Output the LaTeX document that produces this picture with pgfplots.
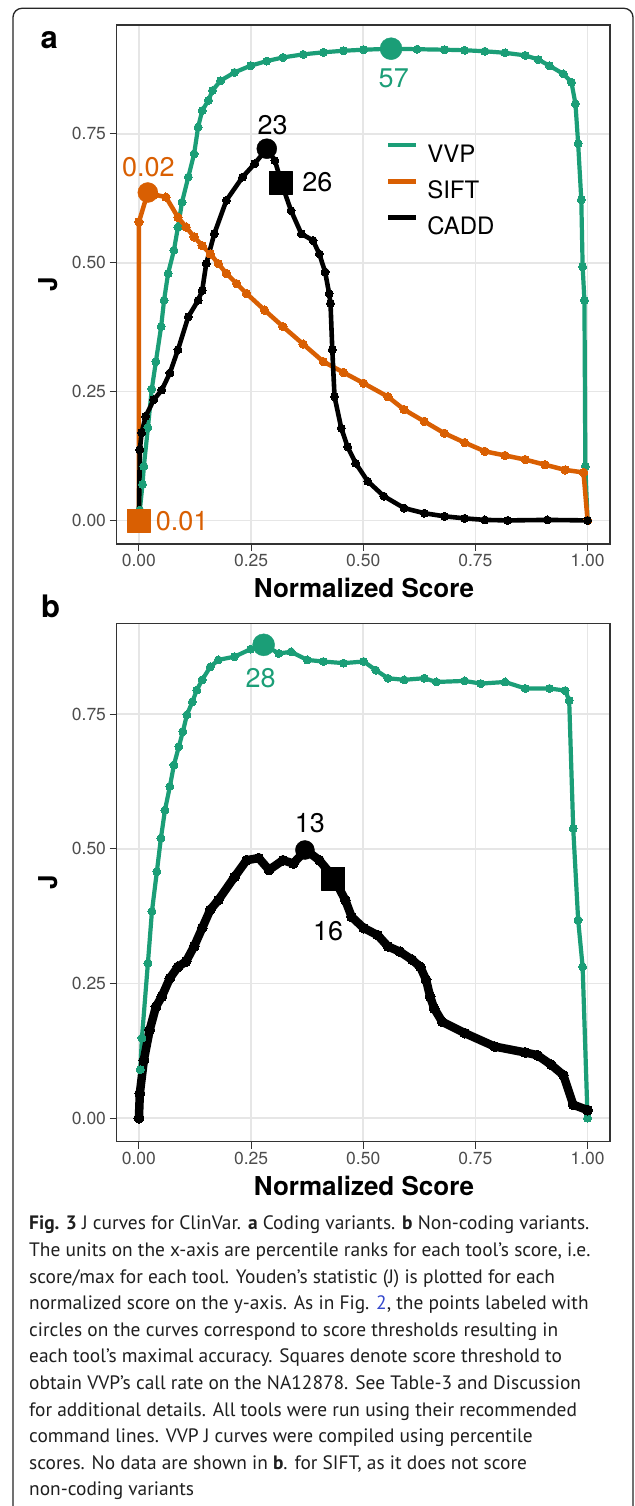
\documentclass[border=0pt]{standalone}
\usepackage{fontspec}
\setmainfont{TeX Gyre Heros}
\newfontfamily\capfont{PT Sans}
\usepackage{pgfplots}
\pgfplotsset{compat=1.18}

\definecolor{vvp}{HTML}{1B9E77}
\definecolor{sift}{HTML}{D95F02}
\definecolor{tickc}{HTML}{4D4D4D}
\definecolor{boxc}{HTML}{333333}
\definecolor{gridc}{HTML}{E6E6E6}
\definecolor{linkc}{HTML}{3347CC}

\pgfplotsset{
  jpanel/.style={
    scale only axis, width=493.5pt,
    xmin=-0.05, xmax=1.05, clip=false,
    xtick={0,0.25,0.5,0.75,1}, xticklabels={0.00,0.25,0.50,0.75,1.00},
    ytick={0,0.25,0.5,0.75}, yticklabels={0.00,0.25,0.50,0.75},
    tick pos=left, tick align=outside, major tick length=7pt,
    tick style={boxc, line width=1.1pt},
    axis line style={boxc, line width=1.2pt},
    grid=major, grid style={gridc, line width=1.8pt},
    ticklabel style={font=\fontsize{17.5}{17.5}\selectfont, text=tickc},
    /pgf/number format/assume math mode=true,
    xlabel={\bfseries Normalized Score},
    xlabel style={font=\fontsize{26}{26}\selectfont, at={(axis description cs:0.5015,0)}, anchor=base, yshift=-54pt},
    ylabel={\bfseries J},
    ylabel style={font=\fontsize{26}{26}\selectfont, at={(axis description cs:-0.138,0.5)}, anchor=center},
    every axis plot/.append style={line join=round},
  },
  dots/.style={mark=*, mark size=#1, mark options={solid, line width=0pt}},
}

\begin{document}
\begin{tikzpicture}
\path[use as bounding box] (0pt,0pt) rectangle (634pt,1506pt);
\clip (0pt,0pt) rectangle (634pt,1506pt);
\fill[white] (0pt,0pt) rectangle (634pt,1506pt);
\draw[rounded corners=9pt, line width=1.3pt, black!85] (13pt,-20pt) -- (13pt,1497.7pt) -- (633pt,1497.7pt) -- (633pt,-20pt);

\node[font=\fontsize{31}{31}\selectfont\bfseries, anchor=base] at (49.2pt,1457.7pt) {a};
\node[font=\fontsize{31}{31}\selectfont\bfseries, anchor=base] at (50.5pt,888pt) {b};

% panel a: coding variants
\begin{axis}[jpanel, height=519pt, at={(116.5pt,962pt)}, anchor=south west,
  ymin=-0.0457, ymax=0.961,
  legend style={at={(axis description cs:0.546,0.773)}, anchor=north west, draw=none, fill=none,
    font=\fontsize{24}{24}\selectfont, row sep=16.5pt, column sep=8.6pt, inner sep=0pt,
    nodes={inner sep=0pt, text height=17.5pt, text depth=0pt}},
  legend cell align=left,
  legend image code/.code={\draw[#1, mark=none, line width=4.5pt] (0pt,8.6pt) -- (28pt,8.6pt);},
]
\addplot[vvp, line width=4.2pt, dots=4pt] coordinates {
(0.002,0.02) (0.008,0.07) (0.011,0.105) (0.020,0.18) (0.0287,0.255) (0.0378,0.308)
(0.0495,0.376) (0.056,0.427) (0.065,0.479) (0.078,0.524) (0.087,0.569) (0.096,0.617)
(0.110,0.666) (0.123,0.711) (0.132,0.763) (0.141,0.795) (0.155,0.815) (0.164,0.834)
(0.182,0.853) (0.213,0.869) (0.249,0.882) (0.285,0.891) (0.321,0.898) (0.366,0.904)
(0.411,0.908) (0.456,0.911) (0.501,0.913) (0.562,0.915) (0.620,0.914) (0.681,0.913)
(0.726,0.912) (0.771,0.910) (0.816,0.907) (0.861,0.902) (0.890,0.894) (0.915,0.882)
(0.946,0.866) (0.964,0.850) (0.973,0.808) (0.979,0.731) (0.986,0.622) (0.989,0.492)
(0.993,0.427) (0.995,0.105) (1.0,0.0)};
\addlegendentry{VVP}
\addplot[sift, line width=4.5pt, dots=4.2pt] coordinates {
(0,0) (0,0.579) (0.0198,0.636) (0.035,0.632) (0.0603,0.627) (0.087,0.588) (0.105,0.569)
(0.123,0.550) (0.141,0.533) (0.159,0.517) (0.177,0.498) (0.195,0.479) (0.218,0.459)
(0.240,0.440) (0.280,0.408) (0.321,0.376) (0.366,0.342) (0.411,0.308) (0.456,0.287)
(0.501,0.266) (0.555,0.240) (0.591,0.215) (0.636,0.192) (0.681,0.169) (0.726,0.151)
(0.771,0.134) (0.816,0.126) (0.861,0.118) (0.905,0.108) (0.950,0.098) (0.991,0.093)
(1.0,0.0)};
\addlegendentry{SIFT}
\addplot[black, line width=4.6pt, dots=4pt] coordinates {
(0,0.01) (0.002,0.137) (0.006,0.17) (0.015,0.202) (0.033,0.234) (0.051,0.253)
(0.069,0.286) (0.087,0.331) (0.110,0.395) (0.132,0.427) (0.141,0.446) (0.150,0.498)
(0.168,0.556) (0.195,0.621) (0.231,0.666) (0.258,0.692) (0.285,0.721) (0.303,0.698)
(0.321,0.646) (0.339,0.601) (0.362,0.556) (0.388,0.543) (0.402,0.517) (0.415,0.482)
(0.424,0.440) (0.427,0.421) (0.431,0.331) (0.436,0.240) (0.451,0.179) (0.465,0.143)
(0.483,0.111) (0.510,0.076) (0.546,0.047) (0.591,0.024) (0.636,0.014) (0.681,0.008)
(0.726,0.004) (0.771,0.001) (0.822,0.0) (0.91,0.001) (1.0,0.0)};
\addlegendentry{CADD}
% thresholds: maximal accuracy (circles) and VVP call rate (squares)
\addplot[only marks, forget plot, vvp, mark=*, mark size=11pt] coordinates {(0.562,0.915)};
\addplot[only marks, forget plot, sift, mark=*, mark size=10pt] coordinates {(0.0198,0.636)};
\addplot[only marks, forget plot, sift, mark=square*, mark size=11.5pt] coordinates {(0,0)};
\addplot[only marks, forget plot, black, mark=*, mark size=10pt] coordinates {(0.285,0.721)};
\addplot[only marks, forget plot, black, mark=square*, mark size=11.5pt] coordinates {(0.3166,0.6547)};
\node[text=vvp, font=\fontsize{27}{27}\selectfont] at (axis cs:0.568,0.857) {57};
\node[text=sift, font=\fontsize{27}{27}\selectfont] at (axis cs:0.021,0.685) {0.02};
\node[text=sift, font=\fontsize{27}{27}\selectfont] at (axis cs:0.0963,-0.002) {0.01};
\node[text=black, font=\fontsize{27}{27}\selectfont] at (axis cs:0.298,0.766) {23};
\node[text=black, font=\fontsize{27}{27}\selectfont] at (axis cs:0.398,0.656) {26};
\end{axis}

% panel b: non-coding variants
\begin{axis}[jpanel, height=518.4pt, at={(116.5pt,364.3pt)}, anchor=south west,
  ymin=-0.0437, ymax=0.919]
\addplot[vvp, line width=4.2pt, dots=4pt] coordinates {
(0.001,0.0) (0.003,0.09) (0.0067,0.149) (0.020,0.288) (0.029,0.384) (0.040,0.458)
(0.049,0.520) (0.058,0.572) (0.069,0.616) (0.078,0.656) (0.089,0.690) (0.098,0.718)
(0.107,0.749) (0.119,0.773) (0.129,0.795) (0.141,0.814) (0.159,0.838) (0.177,0.851)
(0.213,0.857) (0.249,0.871) (0.278,0.879) (0.312,0.863) (0.339,0.866) (0.375,0.851)
(0.411,0.848) (0.456,0.845) (0.501,0.848) (0.528,0.832) (0.555,0.817) (0.591,0.814)
(0.636,0.817) (0.663,0.810) (0.726,0.812) (0.762,0.807) (0.816,0.810) (0.861,0.798)
(0.915,0.798) (0.950,0.794) (0.959,0.776) (0.968,0.538) (0.979,0.368) (0.989,0.281)
(1.0,0.0)};
\addplot[black, line width=8.5pt, dots=5pt] coordinates {
(0,0) (0.002,0.046) (0.011,0.108) (0.024,0.164) (0.038,0.207) (0.051,0.226) (0.069,0.260)
(0.087,0.281) (0.105,0.291) (0.123,0.319) (0.141,0.353) (0.159,0.387) (0.177,0.405)
(0.213,0.448) (0.240,0.479) (0.267,0.483) (0.290,0.461) (0.321,0.479) (0.344,0.473)
(0.372,0.498) (0.402,0.479) (0.433,0.448) (0.460,0.405) (0.474,0.374) (0.501,0.353)
(0.532,0.340) (0.555,0.319) (0.582,0.309) (0.609,0.294) (0.627,0.281) (0.640,0.257)
(0.649,0.226) (0.658,0.204) (0.676,0.179) (0.726,0.158) (0.793,0.133) (0.861,0.122)
(0.888,0.117) (0.919,0.099) (0.946,0.080) (0.968,0.025) (1.0,0.015)};
\addplot[only marks, vvp, mark=*, mark size=11pt] coordinates {(0.278,0.879)};
\addplot[only marks, black, mark=*, mark size=9.5pt] coordinates {(0.370,0.498)};
\addplot[only marks, black, mark=square*, mark size=11.5pt] coordinates {(0.433,0.4455)};
\node[text=vvp, font=\fontsize{27}{27}\selectfont] at (axis cs:0.2715,0.817) {28};
\node[text=black, font=\fontsize{27}{27}\selectfont] at (axis cs:0.381,0.5476) {13};
\node[text=black, font=\fontsize{27}{27}\selectfont] at (axis cs:0.4216,0.3464) {16};
\end{axis}

% caption
\begin{scope}[every node/.style={anchor=base west, inner sep=0pt, font=\capfont\fontsize{19.4}{19.4}\selectfont, text=black!88}]
\node at (29pt,276pt) {\textbf{Fig. 3} J curves for ClinVar. \textbf{a} Coding variants. \textbf{b} Non-coding variants.};
\node at (29pt,249.4pt) {The units on the x-axis are percentile ranks for each tool’s score, i.e.};
\node at (29pt,222.8pt) {score/max for each tool. Youden’s statistic (J) is plotted for each};
\node at (29pt,196.2pt) {normalized score on the y-axis. As in Fig. \textcolor{linkc}{2}, the points labeled with};
\node at (29pt,169.6pt) {circles on the curves correspond to score thresholds resulting in};
\node at (29pt,143.0pt) {each tool’s maximal accuracy. Squares denote score threshold to};
\node at (29pt,116.4pt) {obtain VVP’s call rate on the NA12878. See Table-3 and Discussion};
\node at (29pt,89.8pt) {for additional details. All tools were run using their recommended};
\node at (29pt,63.2pt) {command lines. VVP J curves were compiled using percentile};
\node at (29pt,36.6pt) {scores. No data are shown in \textbf{b}. for SIFT, as it does not score};
\node at (29pt,10.0pt) {non-coding variants};
\end{scope}
\end{tikzpicture}
\end{document}
